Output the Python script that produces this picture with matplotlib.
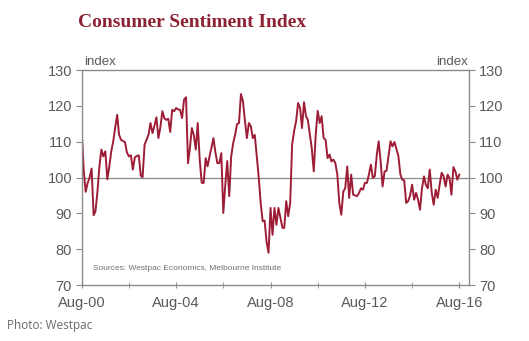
import matplotlib
matplotlib.use("Agg")
import matplotlib.pyplot as plt
import matplotlib.dates as mdates
import pandas as pd
import numpy as np

start_month = "2000-08-01"
values = [
    113, 102, 96, 98.5, 100, 102.5, 89.5, 90.5, 96, 103,
    107.8, 105.9, 107.3, 99.5, 103, 107.3, 110, 114, 117.5, 112,
    110.5, 110.2, 109.9, 107, 105.9, 106.2, 102.2, 105.6, 106, 106.2,
    100.5, 100.1, 109.2, 110.5, 112, 115.2, 112.4, 114.5, 116.8, 111,
    114, 118.5, 116.5, 116.1, 116.4, 112.7, 118.9, 118.5, 119.4, 119,
    118.9, 116.6, 121.7, 122.4, 104, 108, 113.8, 111.9, 107.8, 115.2,
    105, 98.5, 98.5, 105.4, 103.1, 106, 108.5, 111, 107, 104,
    104, 106.8, 90.1, 98, 104.6, 94.8, 105.9, 109.6, 112, 114.9,
    115.2, 123.3, 121.3, 116, 111, 115.2, 114.3, 111, 111.9, 106,
    99.9, 93, 87.8, 88, 82, 79, 91.5, 84, 91.5, 86.8,
    91.5, 88.7, 86, 85.9, 93.4, 89.2, 92.9, 109.2, 113, 115.7,
    120.8, 119.4, 113.8, 121, 117.1, 116.1, 112, 108.2, 101.7, 111.9,
    118.6, 115.2, 117.1, 111, 110.5, 105.4, 106.4, 104.5, 105, 104,
    100.8, 92.9, 89.6, 96.1, 97, 103.1, 94.3, 100.8, 95.2, 95,
    94.8, 95.7, 97, 96.6, 98.5, 98.5, 100.8, 103.6, 99.9, 100.4,
    106.4, 110.1, 104.5, 97.5, 101.7, 101.9, 105.9, 110.1, 108.7, 109.9,
    108, 105.9, 100.8, 99.4, 99.2, 92.9, 93.4, 95, 98, 93.8,
    95.7, 93.8, 91, 97, 100.3, 98, 97, 102.2, 95.7, 92.4,
    96.6, 94.3, 98, 101.3, 100.4, 97.5, 100.8, 99.9, 95.2, 102.9,
    101.7, 99.4, 100.8,
]
y_ticks = [70, 80, 90, 100, 110, 120, 130]
title = "Consumer Sentiment Index"
source = "Sources: Westpac Economics, Melbourne Institute"
credit = "Photo: Westpac"

plt.rcParams["font.family"] = ["Liberation Sans", "DejaVu Sans"]

dates = pd.date_range(start_month, periods=len(values), freq="MS")

fig = plt.figure(figsize=(5.29, 3.41), dpi=100)
ax = fig.add_axes([0.1545, 0.1642, 0.733, 0.6305])

grey = "#8c8c8c"
txt = "#5a5a5a"
ax.plot(dates, values, color="#9e1d36", lw=1.4, solid_joinstyle="round")
ax.axhline(100, color="#8a8a8a", lw=0.9, zorder=0)

ax.set_ylim(70, 130)
ax.set_xlim(pd.Timestamp("2000-08-01"), pd.Timestamp("2017-01-05"))
ax.set_yticks(y_ticks)

ticks_major = [pd.Timestamp(f"{y}-08-01") for y in range(2000, 2017, 4)]
ticks_minor = [pd.Timestamp(f"{y}-08-01") for y in range(2002, 2017, 4)]
ax.set_xticks(ticks_major)
ax.set_xticks(ticks_minor, minor=True)
ax.xaxis.set_major_formatter(mdates.DateFormatter("%b-%y"))

for s in ax.spines.values():
    s.set_color(grey)
    s.set_linewidth(1.0)

ax.tick_params(axis="y", which="both", direction="out", length=4, color=grey,
               labelcolor=txt, labelsize=10.5, left=True, right=True,
               labelleft=True, labelright=True, pad=3)
ax.tick_params(axis="x", which="both", direction="inout", length=4, color=grey,
               labelcolor=txt, labelsize=10.5, pad=6)

fig.text(0.147, 0.935, title, family="Liberation Serif", weight="bold",
         fontsize=14, color="#8c2233", ha="left", va="center")
ax.text(0.005, 1.01, "index", transform=ax.transAxes, fontsize=9.5, color=txt,
        ha="left", va="bottom")
ax.text(0.995, 1.01, "index", transform=ax.transAxes, fontsize=9.5, color=txt,
        ha="right", va="bottom")
ax.text(0.03, 0.075, source, transform=ax.transAxes, fontsize=6, color="#707070",
        ha="left", va="center")
fig.text(0.013, 0.045, credit, family="Open Sans", fontsize=8.5, color="#6a6a6a",
         ha="left", va="center")

fig.savefig("out.png", dpi=100, facecolor="white")
